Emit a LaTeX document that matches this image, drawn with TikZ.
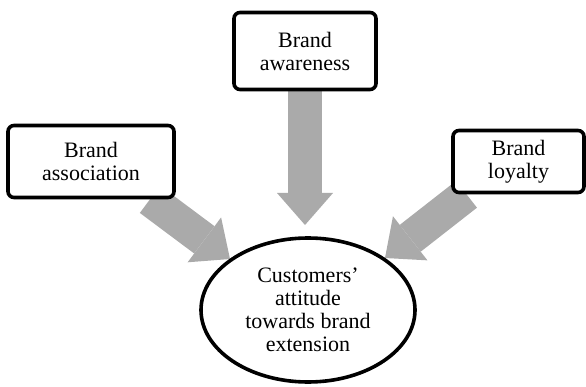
\documentclass[tikz,border=0pt]{standalone}
\usepackage{fontspec}
\setmainfont{Liberation Serif}
\usetikzlibrary{arrows.meta,backgrounds,calc,shapes.geometric}
\definecolor{arrowgray}{RGB}{170,170,170}
\tikzset{
  x=1pt,y=1pt,
  box/.style={draw=black,line width=3.6pt,rounded corners=6pt,fill=white,
    align=center,inner sep=0pt,font=\fontsize{22}{23}\selectfont},
  oval/.style={draw=black,line width=3.6pt,ellipse,fill=white,align=center,
    inner sep=0pt,font=\fontsize{22}{23}\selectfont},
  fat/.style={draw=arrowgray,line width=34pt,
    -{Triangle[width=56pt,length=32pt,line width=0pt,fill=arrowgray]}}
}
\begin{document}
\begin{tikzpicture}
\useasboundingbox (0,0) rectangle (586,386);
\node[box,minimum width=166pt,minimum height=72pt] (assoc) at (91,224.5) {Brand\\association};
\node[box,minimum width=142pt,minimum height=77pt] (aware) at (305,335) {Brand\\awareness};
\node[box,minimum width=131pt,minimum height=62pt] (loyal) at (518.5,224.5) {Brand\\loyalty};
\node[oval,minimum width=214pt,minimum height=144pt] (cust) at (308,76) {Customers\char"0027\\attitude\\towards brand\\extension};
\coordinate (tl) at (230,127);
\coordinate (tm) at (305,161);
\coordinate (tr) at (385,128);
\begin{pgfonlayer}{background}
\draw[fat] ([xshift=59pt]assoc.south) -- (tl);
\draw[fat] (aware.south) -- (tm);
\draw[fat] ([xshift=-52pt]loyal.south) -- (tr);
\end{pgfonlayer}
\end{tikzpicture}
\end{document}
